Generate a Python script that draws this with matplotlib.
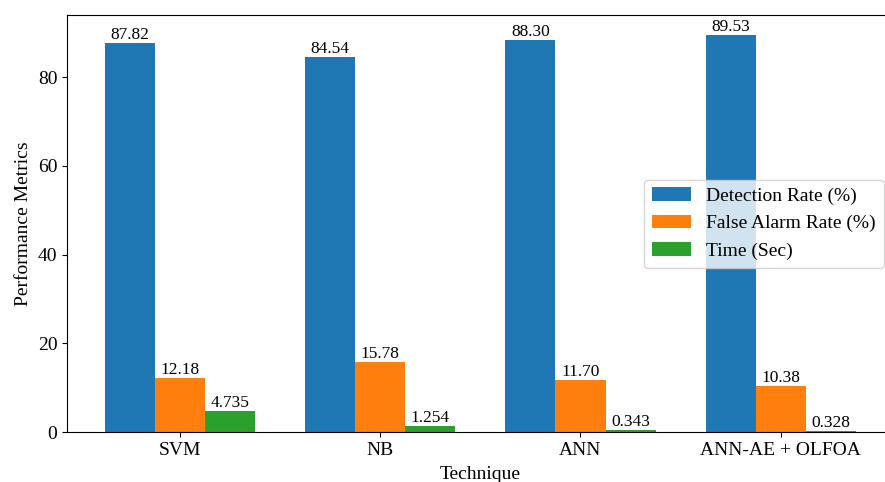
import numpy as np
import matplotlib
matplotlib.use("Agg")
import matplotlib.pyplot as plt

plt.rcParams["font.family"] = ["Liberation Serif", "DejaVu Serif"]

techniques = ["SVM", "NB", "ANN", "ANN-AE + OLFOA"]
detection_rate = [87.82, 84.54, 88.30, 89.53]
false_alarm = [12.18, 15.78, 11.70, 10.38]
time_sec = [4.735, 1.254, 0.343, 0.328]

fig = plt.figure(figsize=(8.85, 4.82), dpi=100)
# axes run past the right edge, as in the cropped reference
ax = fig.add_axes([0.0757, 0.1037, 0.934, 0.865])

x = np.arange(len(techniques))
w = 0.25
b1 = ax.bar(x - w, detection_rate, w, label="Detection Rate (%)", color="#1f77b4")
b2 = ax.bar(x, false_alarm, w, label="False Alarm Rate (%)", color="#ff7f0e")
b3 = ax.bar(x + w, time_sec, w, label="Time (Sec)", color="#2ca02c")

ax.bar_label(b1, fmt="%.2f", fontsize=12.5, padding=0)
ax.bar_label(b2, fmt="%.2f", fontsize=12.5, padding=0)
ax.bar_label(b3, fmt="%.3f", fontsize=12.5, padding=0)

ax.set_xticks(x)
ax.set_xticklabels(techniques)
ax.tick_params(labelsize=14)
ax.set_xlabel("Technique", fontsize=14, labelpad=5)
ax.set_ylabel("Performance Metrics", fontsize=14)
ax.legend(loc="center right", fontsize=14)

fig.savefig("out.png", dpi=100)
